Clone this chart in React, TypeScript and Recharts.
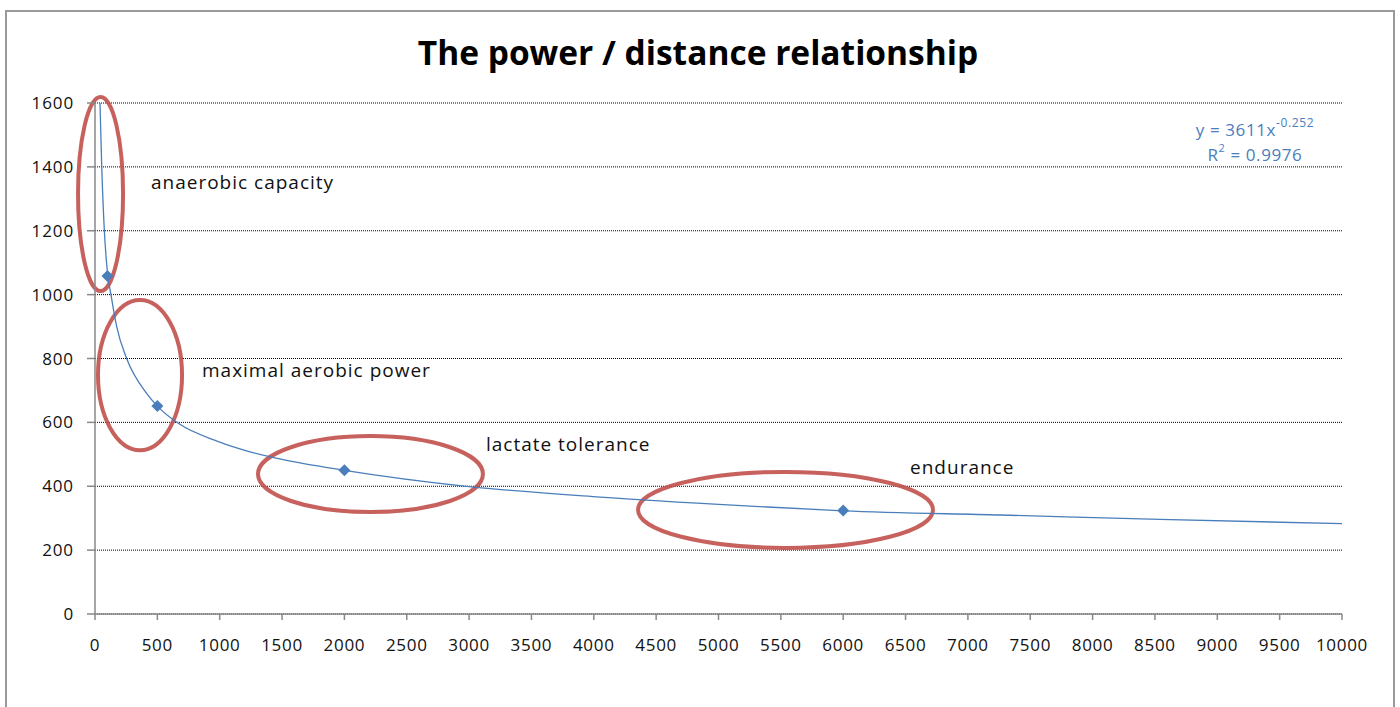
import React from 'react';
import {
  ComposedChart,
  Line,
  Scatter,
  XAxis,
  YAxis,
  CartesianGrid,
  ReferenceArea,
  ReferenceDot,
} from 'recharts';

// measured points (distance, power)
const pointDistance = [100, 500, 2000, 6000];
const pointPower = [1058, 651, 450, 324];

// power trendline
const trendDistance = [40, 54, 75, 100, 128, 174, 254, 414, 500, 668, 989, 1243, 1500, 2000, 3000, 4050, 5253, 6000, 7257, 8540, 10000];
const trendPower = [1600, 1400, 1200, 1070, 1000, 900, 800, 691, 651, 597, 540, 508, 484, 450, 399, 366, 338, 323, 310, 296, 283];

const xTicks = [0, 500, 1000, 1500, 2000, 2500, 3000, 3500, 4000, 4500, 5000, 5500, 6000, 6500, 7000, 7500, 8000, 8500, 9000, 9500, 10000];
const yTicks = [0, 200, 400, 600, 800, 1000, 1200, 1400, 1600];

// ellipse annotations: bounding box in data units
const zoneNames = ['anaerobic capacity', 'maximal aerobic power', 'lactate tolerance', 'endurance'];
const zoneX1 = [-136, 24, 1307, 4355];
const zoneX2 = [225, 698, 3111, 6720];
const zoneY1 = [1011, 513, 319, 207];
const zoneY2 = [1619, 983, 557, 445];
const labelX = [449, 858, 3135, 6536];
const labelY = [1353, 764, 532, 460];

const points = pointDistance.map((x, i) => ({ x, y: pointPower[i] }));
const trend = trendDistance.map((x, i) => ({ x, y: trendPower[i] }));

const FONT = '"Open Sans", Calibri, sans-serif';
const BLUE = '#4a7ebb';
const RED = '#c0504d';

const Diamond = (props: any) => {
  const { cx, cy } = props;
  return (
    <polygon
      points={`${cx},${cy - 6} ${cx + 6},${cy} ${cx},${cy + 6} ${cx - 6},${cy}`}
      fill={BLUE}
    />
  );
};

const Ellipse = (props: any) => {
  const { x, y, width, height } = props;
  return (
    <ellipse
      cx={x + width / 2}
      cy={y + height / 2}
      rx={width / 2}
      ry={height / 2}
      fill="none"
      stroke={RED}
      strokeWidth={4}
      opacity={0.9}
    />
  );
};

const makeLabel = (text: string) => (props: any) => (
  <text
    x={props.cx}
    y={props.cy}
    dominantBaseline="central"
    fontFamily={FONT}
    fontSize={19}
    letterSpacing={1}
    fill="#111"
  >
    {text}
  </text>
);

const Equation = (props: any) => (
  <g fontFamily={FONT} fontSize={17} fill={BLUE} textAnchor="middle">
    <text x={props.cx} y={props.cy} dominantBaseline="central" letterSpacing={0.6}>
      y = 3611x<tspan dy={-7} fontSize={12}>-0.252</tspan>
    </text>
    <text x={props.cx} y={props.cy + 25} dominantBaseline="central" letterSpacing={0.6}>
      R<tspan dy={-7} fontSize={11}>2</tspan>
      <tspan dy={7}> = 0.9976</tspan>
    </text>
  </g>
);

export default function App() {
  return (
    <div style={{ position: 'fixed', left: 0, top: 0, width: 1400, height: 707, background: '#fff', overflow: 'hidden' }}>
      <div
        style={{
          position: 'absolute',
          left: 5,
          top: 10,
          width: 1386,
          height: 720,
          border: '2px solid #9a9a9a',
        }}
      />
      <div
        style={{
          position: 'absolute',
          left: 0,
          top: 29,
          width: 1396,
          textAlign: 'center',
          fontFamily: FONT,
          fontWeight: 700,
          fontSize: 33.5,
          color: '#000',
        }}
      >
        The power / distance relationship
      </div>
      <div style={{ position: 'absolute', left: 0, top: 0 }}>
        <ComposedChart
          width={1400}
          height={707}
          margin={{ top: 103, right: 58, left: 35, bottom: 53 }}
        >
          <CartesianGrid vertical={false} stroke="#000" strokeDasharray="1 1" />
          <XAxis
            type="number"
            dataKey="x"
            domain={[0, 10000]}
            ticks={xTicks}
            interval={0}
            allowDataOverflow
            height={40}
            tickSize={6}
            tickMargin={19}
            stroke="#888"
            strokeWidth={1.5}
            tick={{ fontFamily: FONT, fontSize: 17, fill: '#111', letterSpacing: 0.7 }}
          />
          <YAxis
            type="number"
            dataKey="y"
            domain={[0, 1600]}
            ticks={yTicks}
            interval={0}
            allowDataOverflow
            width={60}
            tickSize={8}
            tickMargin={13}
            stroke="#888"
            strokeWidth={1.5}
            tick={{ fontFamily: FONT, fontSize: 17, fill: '#111', letterSpacing: 0.9 }}
          />
          <Line
            data={trend}
            dataKey="y"
            type="monotone"
            stroke={BLUE}
            strokeWidth={1.3}
            dot={false}
            activeDot={false}
            isAnimationActive={false}
          />
          <Scatter data={points} dataKey="y" shape={<Diamond />} isAnimationActive={false} />
          {zoneNames.map((name, i) => (
            <ReferenceArea
              key={name}
              x1={zoneX1[i]}
              x2={zoneX2[i]}
              y1={zoneY1[i]}
              y2={zoneY2[i]}
              ifOverflow="visible"
              shape={Ellipse}
            />
          ))}
          {zoneNames.map((name, i) => (
            <ReferenceDot
              key={'l' + name}
              x={labelX[i]}
              y={labelY[i]}
              r={0}
              ifOverflow="visible"
              shape={makeLabel(name)}
            />
          ))}
          <ReferenceDot x={9302} y={1518} r={0} ifOverflow="visible" shape={Equation} />
        </ComposedChart>
      </div>
    </div>
  );
}
